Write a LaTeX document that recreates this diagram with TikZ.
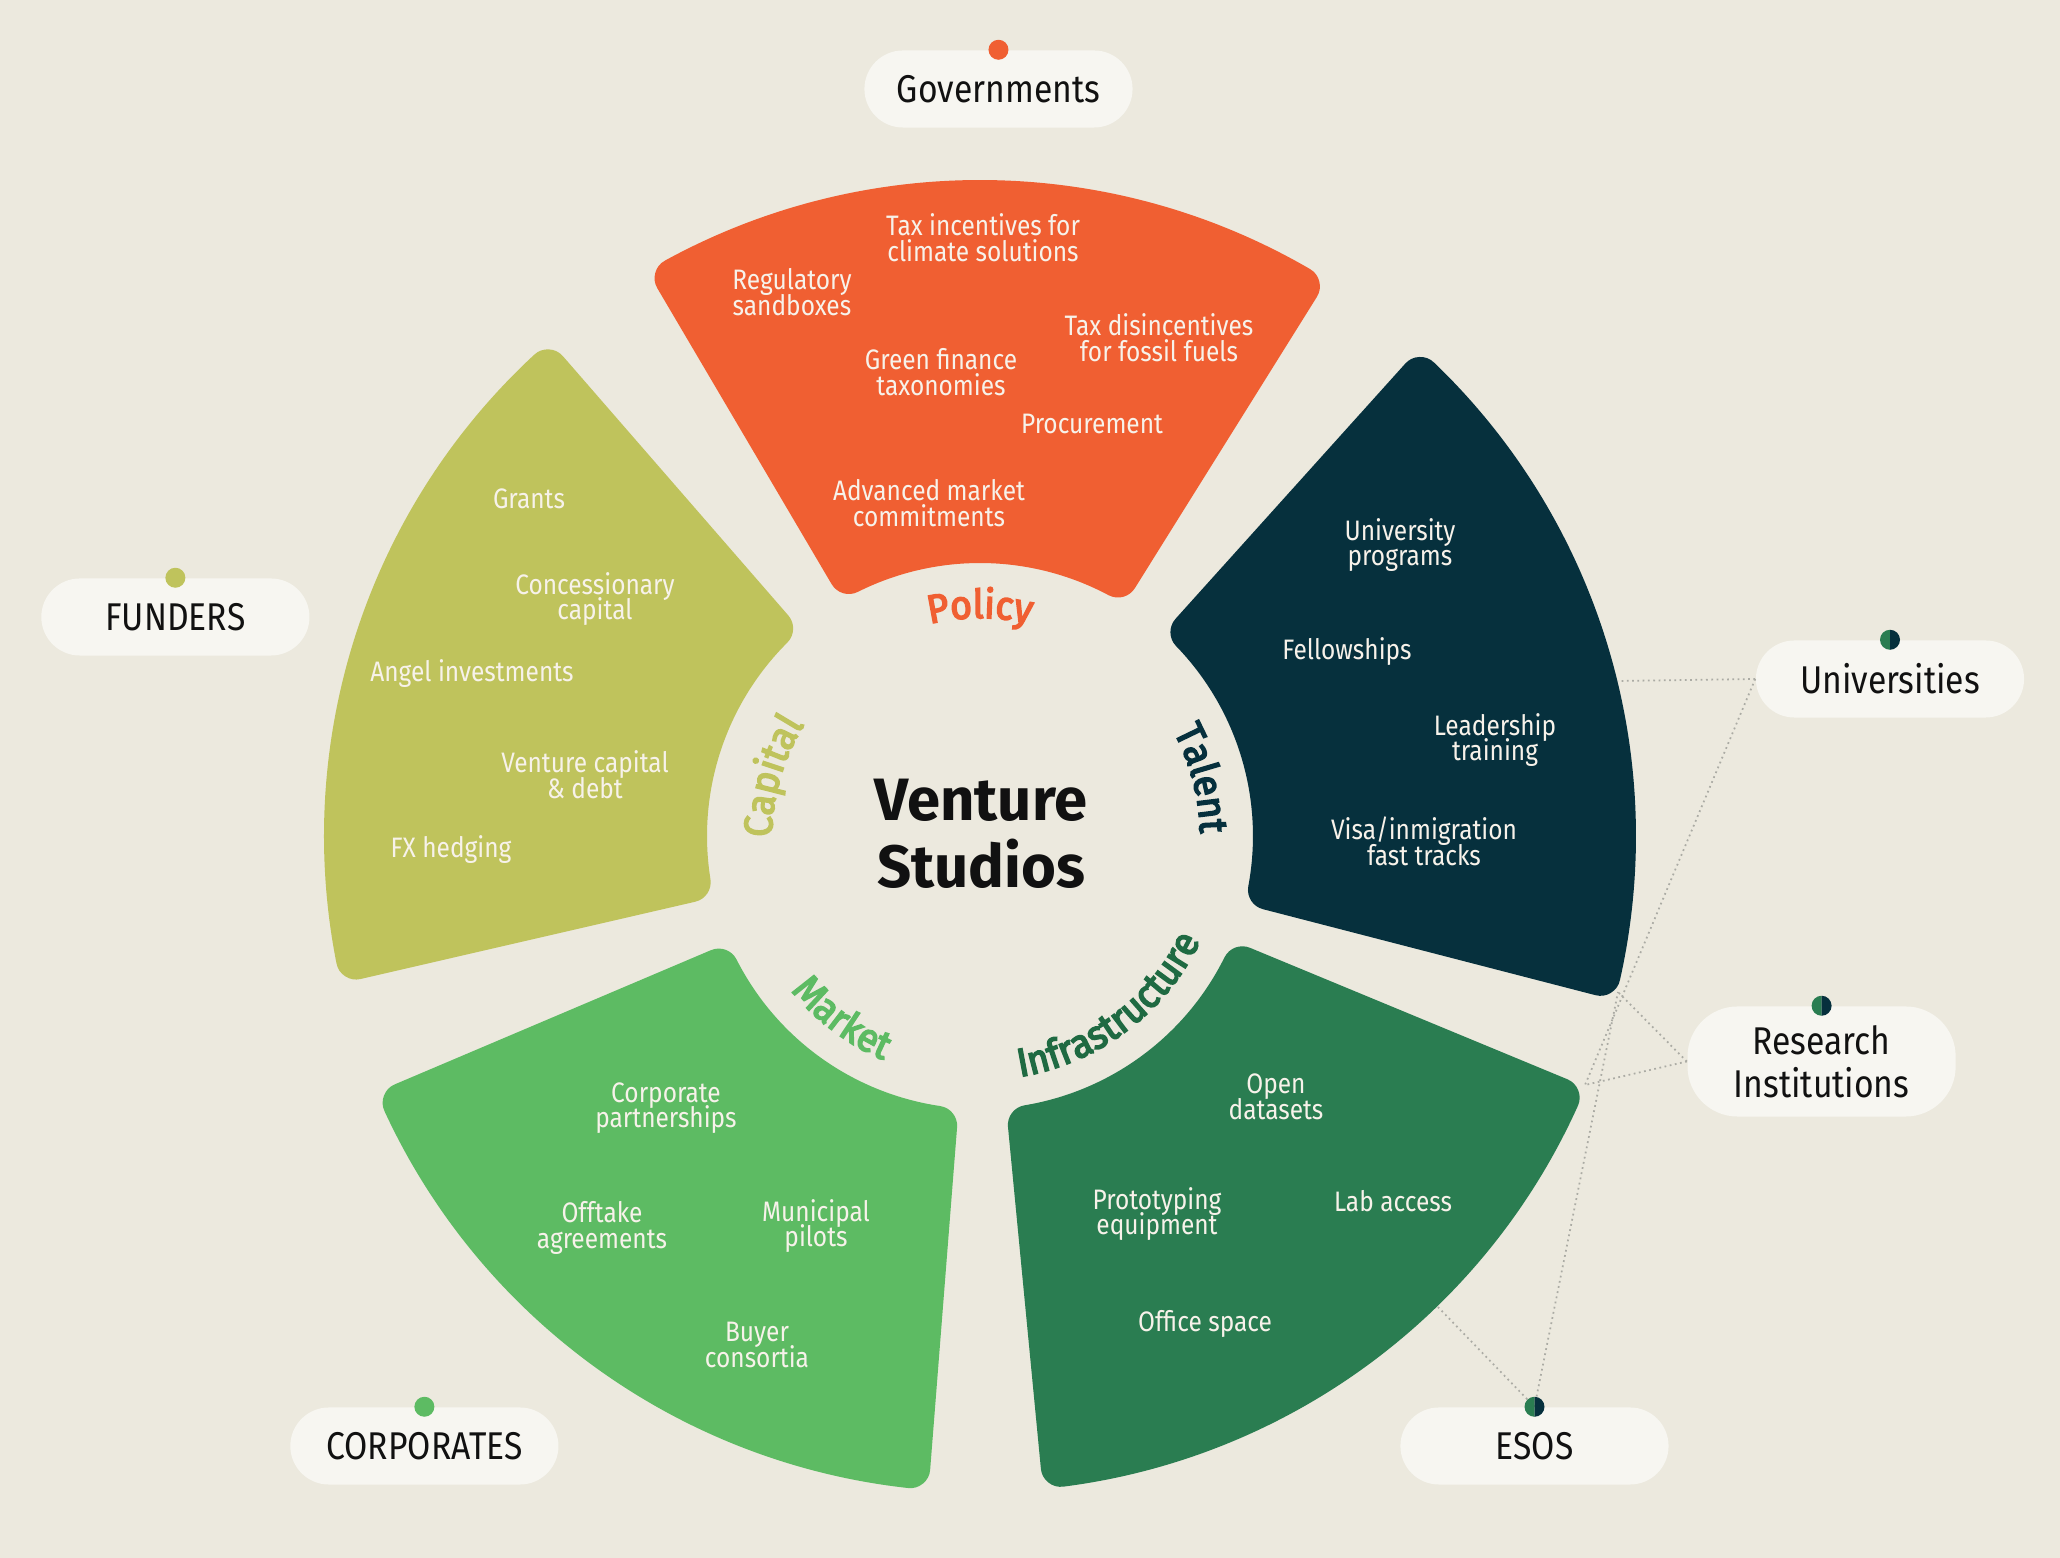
\documentclass[tikz,border=0pt]{standalone}
\usepackage{fontspec}
\setmainfont{Fira Sans}
\newfontfamily\narrowsans{Fira Sans}[FakeStretch=0.87]
\newfontfamily\catsans{Fira Sans}[FakeBold=4, FakeStretch=0.94]
\usepackage{xcolor}
\usetikzlibrary{decorations.text}
\definecolor{paper}{HTML}{ECE9DE}
\definecolor{pillfill}{HTML}{F7F6F1}
\definecolor{policy}{HTML}{F05F32}
\definecolor{talent}{HTML}{06303D}
\definecolor{infra}{HTML}{2A7D51}
\definecolor{infraword}{HTML}{1F6A42}
\definecolor{market}{HTML}{5DBB63}
\definecolor{capital}{HTML}{BFC35C}
\definecolor{itemtext}{HTML}{F7F2EA}
\definecolor{linkgray}{HTML}{ABABA4}
\definecolor{ink}{HTML}{111111}

% ring piece: colour, start angle, end angle (corners rounded by a 20 unit stroke)
\newcommand{\wheelsector}[3]{%
  \filldraw[#1, line width=0.4cm, line join=round]
    ({#2+asin(20/293)}:293) -- ({#2+asin(20/636)}:636)
    arc[start angle={#2+asin(20/636)}, end angle={#3-asin(20/636)}, radius=636]
    -- ({#3-asin(20/293)}:293)
    arc[start angle={#3-asin(20/293)}, end angle={#2+asin(20/293)}, radius=293]
    -- cycle;}
% two-tone dot on top of a label
\newcommand{\duodot}[1]{%
  \fill[infra] (#1.north) ++(0,10) arc[start angle=90, end angle=270, radius=10] -- cycle;
  \fill[talent] (#1.north) ++(0,-10) arc[start angle=-90, end angle=90, radius=10] -- cycle;}
\newcommand{\tightlines}{\lineskip=0pt\lineskiplimit=-20pt}

\begin{document}
\begin{tikzpicture}[x=0.01cm, y=0.01cm,
    item/.style={text=itemtext, align=center, inner sep=1pt,
      font=\narrowsans\fontsize{8}{7.3}\selectfont\tightlines},
    pill/.style={fill=pillfill, rounded corners=0.385cm, minimum width=2.68cm,
      minimum height=0.77cm, inner sep=0pt, text=ink,
      font=\narrowsans\fontsize{11}{12}\selectfont},
    link/.style={draw=linkgray, line width=0.5pt, dash pattern=on 0.5pt off 1pt},
    catlabel/.style 2 args={decorate, decoration={text along path,
      text align=center, text color=#1,
      text={|\catsans\fontsize{11.3}{12}\selectfont|#2}}}]
  \useasboundingbox (-980,-722) rectangle (1080,836);
  \fill[paper] (-980,-722) rectangle (1080,836);

  % connector ends on the ring
  \coordinate (talentedge) at (638,155);
  \coordinate (talentcorner) at (638,-156);
  \coordinate (infracorner) at (605,-249);
  \coordinate (infraarc) at (458,-471);

  % labels
  \node[pill] (gov) at (18.5,747) {Governments};
  \node[pill] (funders) at (-804.6,219) {FUNDERS};
  \node[pill] (corp) at (-555.6,-610) {CORPORATES};
  \node[pill] (univ) at (910,157) {Universities};
  \node[pill, minimum height=1.1cm, rounded corners=0.5cm, align=center,
    font=\narrowsans\fontsize{11}{12.2}\selectfont] (research) at (841.6,-225.5)
    {Research\\Institutions};
  \node[pill] (esos) at (554.5,-610) {ESOS};

  \draw[link] (univ.west) -- (talentedge);
  \draw[link] (univ.west) -- (infracorner);
  \draw[link] (research.west) -- (talentcorner);
  \draw[link] (research.west) -- (infracorner);
  \draw[link] (esos.north) -- (talentcorner);
  \draw[link] (esos.north) -- (infraarc);

  \wheelsector{policy}{58}{120.5}
  \wheelsector{talent}{-14.5}{48}
  \wheelsector{infra}{-84.5}{-22.5}
  \wheelsector{market}{-157}{-94.5}
  \wheelsector{capital}{131}{193}

  \fill[policy] (gov.north) circle[radius=10];
  \fill[capital] (funders.north) circle[radius=10];
  \fill[market] (corp.north) circle[radius=10];
  \duodot{univ}
  \duodot{research}
  \duodot{esos}

  % centre
  \node[font=\fontsize{17}{19}\selectfont\bfseries, text=ink, align=center]
    (studio) at (1,2) {Venture\\Studios};
  \path[catlabel={policy}{Policy}] (125:218) arc[start angle=125, end angle=55, radius=218];
  \path[catlabel={talent}{Talent}] (50.5:220) arc[start angle=50.5, end angle=-21.5, radius=220];
  \path[catlabel={capital}{Capital}] (199:208) arc[start angle=199, end angle=129, radius=208];
  \path[catlabel={infraword}{Infrastructure}] (-98:244) arc[start angle=-98, end angle=-8, radius=244];
  \path[catlabel={market}{Market}] (-172:244) arc[start angle=-172, end angle=-82, radius=244];

  % policy
  \node[item] (taxin) at (3,598) {Tax incentives for\\climate solutions};
  \node[item] (regsb) at (-188,544) {Regulatory\\sandboxes};
  \node[item] (taxdis) at (179,498) {Tax disincentives\\for fossil fuels};
  \node[item] (greenfin) at (-39,464) {Green finance\\taxonomies};
  \node[item] (procure) at (112,412) {Procurement};
  \node[item] (amc) at (-51,333) {Advanced market\\commitments};
  % capital
  \node[item] (grants) at (-451,337) {Grants};
  \node[item] (concess) at (-385,237) {Concessionary\\capital};
  \node[item] (angel) at (-508,162) {Angel investments};
  \node[item] (vcdebt) at (-395,61) {Venture capital\\\& debt};
  \node[item] (fxhedge) at (-529,-14) {FX hedging};
  % talent
  \node[item] (uniprog) at (420,291) {University\\programs};
  \node[item] (fellow) at (367,184) {Fellowships};
  \node[item] (leader) at (515,96) {Leadership\\training};
  \node[item] (visa) at (444,-5) {Visa/inmigration\\fast tracks};
  % infrastructure
  \node[item] (opendata) at (296,-261) {Open\\datasets};
  \node[item] (proto) at (177,-378) {Prototyping\\equipment};
  \node[item] (lab) at (413,-365) {Lab access};
  \node[item] (office) at (225,-488) {Office space};
  % market
  \node[item] (corppart) at (-314,-272) {Corporate\\partnerships};
  \node[item] (offtake) at (-378,-392) {Offtake\\agreements};
  \node[item] (munic) at (-164,-390) {Municipal\\pilots};
  \node[item] (buyer) at (-223,-509) {Buyer\\consortia};
\end{tikzpicture}
\end{document}
